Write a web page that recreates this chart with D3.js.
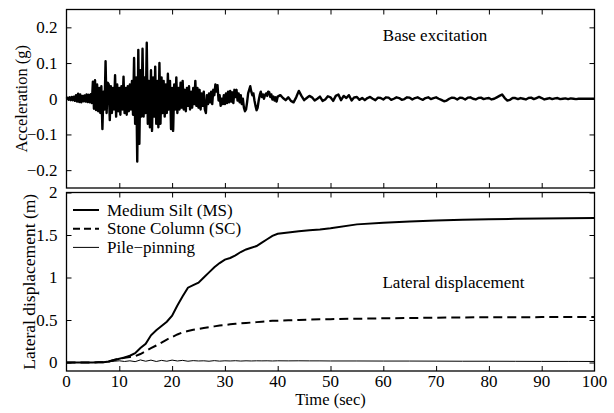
<!DOCTYPE html>
<html>
<head>
<meta charset="utf-8">
<script src="https://cdn.jsdelivr.net/npm/d3@7"></script>
<style>
  body { margin: 0; background: #fff; }
  svg { display: block; }
  svg text { font-family: "Liberation Serif", "Times New Roman", "DejaVu Serif", serif; }
</style>
</head>
<body>
<div id="chart"></div>
<script>
// Base excitation record, first segment: t = 0 .. 39.8 s, step 0.2 s (g)
const accEarlyStart = 0, accEarlyStep = 0.2;
const accEarly = [
  0.000, 0.003,-0.003, 0.004,-0.004, 0.005,-0.004, 0.006,-0.006, 0.010,
 -0.008, 0.014,-0.009, 0.012,-0.010, 0.008,-0.007, 0.009,-0.008, 0.012,
 -0.009, 0.011,-0.010, 0.013,-0.012, 0.048,-0.028, 0.052,-0.032, 0.040,
 -0.035, 0.030,-0.040, 0.035,-0.085, 0.020,-0.030, 0.105,-0.040, 0.045,
  0.040,-0.060, 0.035,-0.040, 0.030,-0.030, 0.066,-0.050, 0.040,-0.035,
  0.030,-0.045, 0.035,-0.030, 0.062,-0.040, 0.030,-0.045, 0.035,-0.035,
  0.040,-0.030, 0.050,-0.045, 0.114,-0.070, 0.060,-0.176, 0.137,-0.126,
  0.080,-0.050, 0.140,-0.050, 0.060,-0.040, 0.157,-0.070, 0.050,-0.080,
  0.080,-0.090, 0.060,-0.050, 0.090,-0.070, 0.050,-0.080, 0.100,-0.070,
  0.060,-0.040, 0.050,-0.050, 0.040,-0.040, 0.070,-0.030, 0.050,-0.085,
  0.030,-0.090, 0.040,-0.030, 0.060,-0.040, 0.030,-0.030, 0.045,-0.025,
  0.050,-0.030, 0.025,-0.035, 0.030,-0.020, 0.035,-0.030, 0.020,-0.025,
  0.030,-0.015, 0.050,-0.020, 0.030,-0.025, 0.025,-0.030, 0.015,-0.020,
  0.020,-0.030,-0.040, 0.010,-0.015, 0.015,-0.010, 0.020,-0.015, 0.025,
  0.010, 0.040, 0.020, 0.038,-0.005, 0.010,-0.020, 0.000,-0.015, 0.010,
 -0.015, 0.015,-0.012, 0.020,-0.010, 0.022,-0.008, 0.018,-0.012, 0.025,
  0.005, 0.025,-0.005, 0.015,-0.010, 0.010,-0.015, 0.000,-0.025,-0.035,
 -0.030,-0.010, 0.015, 0.025, 0.035, 0.020, 0.010, 0.015,-0.005,-0.020,
 -0.032,-0.025,-0.005, 0.010, 0.020, 0.005, 0.012, 0.000, 0.010, 0.015,
  0.008, 0.020, 0.018, 0.005, 0.012,-0.002, 0.006,-0.005, 0.004,-0.008
];
// Second segment: t = 40 .. 100 s, step 0.5 s (g)
const accLateStart = 40, accLateStep = 0.5;
const accLate = [
  0.006, 0.010, 0.002,-0.004, 0.004,-0.006,-0.010, 0.004, 0.022, 0.008,
 -0.004, 0.002, 0.008, 0.004,-0.005, 0.000, 0.006,-0.006,-0.002, 0.007,
  0.004,-0.006, 0.008, 0.012,-0.004, 0.008, 0.002, 0.010,-0.005, 0.004,
  0.005,-0.003, 0.002,-0.004, 0.002, 0.005, 0.000,-0.004, 0.003, 0.002,
 -0.002, 0.004, 0.003,-0.003, 0.000, 0.004, 0.002,-0.003,-0.001, 0.004,
  0.003,-0.002, 0.002, 0.004, 0.000,-0.003, 0.002, 0.004,-0.001, 0.002,
  0.004, 0.000,-0.003,-0.007,-0.005, 0.000, 0.003, 0.002,-0.002, 0.003,
  0.002,-0.002, 0.003, 0.004, 0.000,-0.002, 0.002, 0.003,-0.001, 0.001,
  0.002,-0.002, 0.000, 0.004, 0.008, 0.012, 0.002,-0.005,-0.003, 0.002,
  0.002,-0.001, 0.002, 0.000,-0.002, 0.002, 0.003,-0.001, 0.002, 0.005,
  0.002,-0.002, 0.000, 0.002,-0.001, 0.001, 0.002,-0.001, 0.000, 0.001,
 -0.001, 0.001, 0.000,-0.001, 0.000, 0.000, 0.000, 0.000, 0.000, 0.000,
  0.000
];

// Lateral displacement (m)
const dispTime = [0,1,2,3,4,5,6,7,8,9,10,11,12,13,14,15,16,17,18,19,20,
  21,22,23,24,25,26,27,28,29,30,31,32,33,34,35,36,37,38,39,40,
  42,44,46,48,50,55,60,65,70,75,80,85,90,95,100];
const dispMS = [0,0,0,0,0,0,0.002,0.004,0.012,0.030,0.045,0.060,0.080,0.110,0.170,0.220,0.320,0.380,0.430,0.480,0.550,
  0.670,0.780,0.880,0.910,0.940,1.000,1.060,1.120,1.170,1.210,1.230,1.260,1.300,1.330,1.350,1.370,1.410,1.450,1.490,1.515,
  1.530,1.545,1.555,1.565,1.580,1.625,1.645,1.660,1.670,1.680,1.685,1.690,1.695,1.697,1.700];
const dispSC = [0,0,0,0,0,0,0.002,0.004,0.012,0.030,0.045,0.055,0.065,0.075,0.100,0.135,0.170,0.200,0.235,0.270,0.300,
  0.330,0.355,0.370,0.385,0.395,0.405,0.415,0.425,0.435,0.440,0.450,0.455,0.460,0.465,0.470,0.475,0.480,0.485,0.490,0.492,
  0.497,0.500,0.505,0.508,0.510,0.515,0.520,0.524,0.527,0.530,0.532,0.533,0.534,0.535,0.535];
const dispPP = [0,0,0,0,0,0,0.002,0.004,0.008,0.015,0.020,0.012,0.020,0.010,0.030,0.015,0.028,0.012,0.025,0.015,0.028,
  0.018,0.025,0.015,0.022,0.018,0.020,0.015,0.022,0.016,0.020,0.018,0.021,0.017,0.020,0.018,0.020,0.019,0.020,0.018,0.020,
  0.019,0.020,0.019,0.019,0.018,0.018,0.017,0.017,0.016,0.015,0.015,0.014,0.013,0.013,0.012];

const timeTicks = [0,10,20,30,40,50,60,70,80,90,100];
const accTicks = [-0.2,-0.1,0,0.1,0.2];
const dispTicks = [0,0.5,1,1.5,2];
const legendLabels = ["Medium Silt (MS)", "Stone Column (SC)", "Pile\u2212pinning"];

const W = 614, H = 413;
const left = 66.5, right = 594.5;
const top1 = 9.5, bot1 = 188, top2 = 192.5, bot2 = 371;
const fs = 17;
const serif = "Liberation Serif, Times New Roman, DejaVu Serif, serif";

const svg = d3.select("#chart").append("svg").attr("width", W).attr("height", H)
  .attr("font-family", serif);

const x = d3.scaleLinear().domain([0, 100]).range([left, right]);
const yA = d3.scaleLinear().domain([-0.25, 0.25]).range([bot1, top1]);
const yD = d3.scaleLinear().domain([-0.1, 2.0]).range([bot2, top2]);

const fmt = d => d === 0 ? "0" : String(d).replace("-", "\u2212");

function panel(y, top, bot, yTicks, showX) {
  const g = svg.append("g");
  const tk = 5;
  const ax = (axis, tr) => {
    const a = g.append("g").attr("transform", tr).call(axis);
    a.attr("font-family", serif);
    a.select(".domain").remove();
    a.selectAll("line").attr("stroke", "#000").attr("stroke-width", 1);
    a.selectAll("text").attr("font-size", fs).attr("fill", "#000");
    return a;
  };
  ax(d3.axisBottom(x).tickValues(timeTicks.slice(1, -1)).tickSize(-tk).tickFormat(""), `translate(0,${bot})`);
  if (showX) {
    g.append("g").selectAll("text").data(timeTicks).join("text")
      .attr("x", d => x(d)).attr("y", bot + 15.5).attr("text-anchor", "middle")
      .attr("font-size", fs).text(d => d);
  }
  ax(d3.axisTop(x).tickValues(timeTicks.slice(1, -1)).tickSize(-tk).tickFormat(""), `translate(0,${top})`);
  ax(d3.axisLeft(y).tickValues(yTicks).tickSize(-tk).tickPadding(9).tickFormat(fmt), `translate(${left},0)`);
  ax(d3.axisRight(y).tickValues(yTicks).tickSize(-tk).tickFormat(""), `translate(${right},0)`);
  g.append("rect").attr("x", left).attr("y", top).attr("width", right - left).attr("height", bot - top)
    .attr("fill", "none").attr("stroke", "#000").attr("stroke-width", 1.3);
  return g;
}

panel(yA, top1, bot1, accTicks, false);
panel(yD, top2, bot2, dispTicks, true);

// acceleration
const accPts = accEarly.map((v, i) => [accEarlyStart + i * accEarlyStep, v])
  .concat(accLate.map((v, i) => [accLateStart + i * accLateStep, v]));
svg.append("path").datum(accPts)
  .attr("d", d3.line().x(d => x(d[0])).y(d => yA(d[1])))
  .attr("fill", "none").attr("stroke", "#000").attr("stroke-width", 2.4).attr("stroke-linejoin", "round");

// displacement
const dispLine = vals => d3.line().x((d, i) => x(dispTime[i])).y(d => yD(d))(vals);
const styles = [
  { vals: dispMS, w: 2, dash: null },
  { vals: dispSC, w: 2, dash: "9,5" },
  { vals: dispPP, w: 1, dash: null }
];
styles.forEach(s => {
  svg.append("path").attr("d", dispLine(s.vals))
    .attr("fill", "none").attr("stroke", "#000").attr("stroke-width", s.w)
    .attr("stroke-dasharray", s.dash);
});

// legend
const lg = svg.append("g");
styles.forEach((s, i) => {
  const yy = 210 + i * 18.7;
  lg.append("line").attr("x1", 73).attr("x2", 99).attr("y1", yy).attr("y2", yy)
    .attr("stroke", "#000").attr("stroke-width", s.w).attr("stroke-dasharray", s.dash ? "7,4" : null);
  lg.append("text").attr("x", 107).attr("y", yy + 5.5).attr("font-size", fs).text(legendLabels[i]);
});

// annotations
svg.append("text").attr("x", 435).attr("y", 41).attr("text-anchor", "middle").attr("font-size", fs).text("Base excitation");
svg.append("text").attr("x", 453.5).attr("y", 288).attr("text-anchor", "middle").attr("font-size", fs).text("Lateral displacement");

// axis titles
svg.append("text").attr("transform", `translate(27,${(top1 + bot1) / 2}) rotate(-90)`)
  .attr("text-anchor", "middle").attr("font-size", 16.5).text("Acceleration (g)");
svg.append("text").attr("transform", `translate(35,${(top2 + bot2) / 2}) rotate(-90)`)
  .attr("text-anchor", "middle").attr("font-size", 17.5).text("Lateral displacement (m)");
svg.append("text").attr("x", (left + right) / 2).attr("y", 405).attr("text-anchor", "middle")
  .attr("font-size", 16.5).text("Time (sec)");
</script>
</body>
</html>
